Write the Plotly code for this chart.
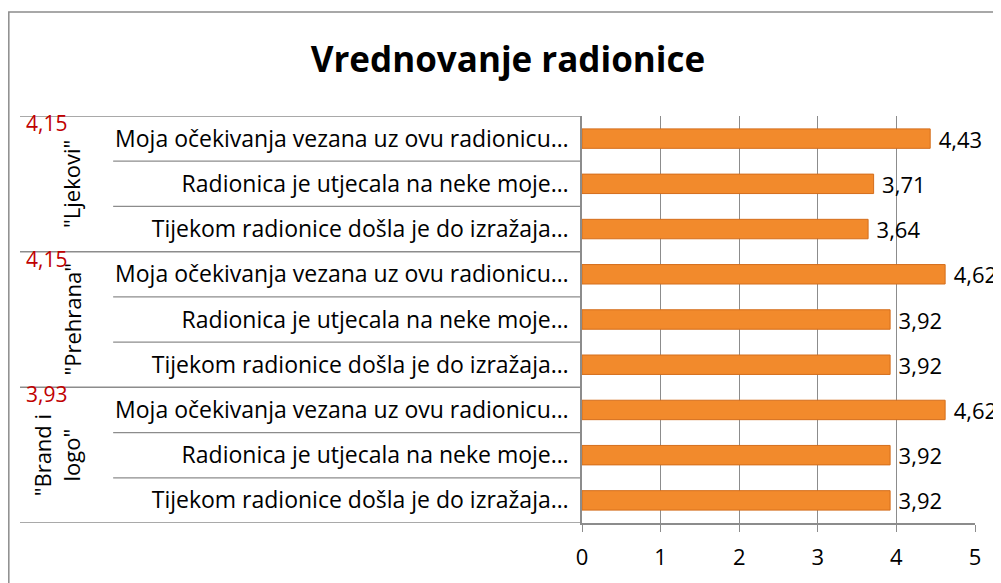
import plotly.graph_objects as go

# data, top to bottom
groups = ['"Ljekovi"', '"Prehrana"', '"Brand i<br>logo"']
group_scores = ["4,15", "4,15", "3,93"]
items = [
    "Moja očekivanja vezana uz ovu radionicu…",
    "Radionica je utjecala na neke moje…",
    "Tijekom radionice došla je do izražaja…",
]
values = [4.43, 3.71, 3.64, 4.62, 3.92, 3.92, 4.62, 3.92, 3.92]

labels = items * len(groups)
pos = list(range(len(values)))

FONT = "Open Sans"
GRAY = "#8c8c8c"

fig = go.Figure()
fig.add_trace(go.Bar(
    x=values,
    y=pos,
    orientation="h",
    width=0.43,
    marker=dict(color="#F28A2C", line=dict(color="#D46E1C", width=1)),
    text=["\u2005" + f"{v:.2f}".replace(".", ",") for v in values],
    textposition="outside",
    constraintext="none",
    textfont=dict(size=22, color="black", family=FONT),
    cliponaxis=False,
    hoverinfo="skip",
))

n = len(items)
shapes = []
# row separators on the label side
for i in range(len(values) + 1):
    outer = i % n == 0
    shapes.append(dict(
        type="line", xref="paper", yref="y",
        x0=-1.430 if outer else -1.193, x1=0,
        y0=i - 0.5, y1=i - 0.5,
        line=dict(color=GRAY, width=1.5 if outer else 1.2),
    ))
# chart border
shapes.append(dict(type="rect", xref="paper", yref="paper",
                   x0=-1.4585, x1=1.08, y0=-0.17, y1=1.2555,
                   line=dict(color=GRAY, width=1.5)))

annotations = []
for g, (name, score) in enumerate(zip(groups, group_scores)):
    annotations.append(dict(
        text=name, xref="paper", yref="y",
        x=-1.338 if "<br>" in name else -1.300, y=g * n + 1,
        xanchor="center", yanchor="middle",
        textangle=-90, showarrow=False,
        font=dict(size=22, color="black", family=FONT),
    ))
    annotations.append(dict(
        text=score, xref="paper", yref="y",
        x=-1.362, y=g * n - 0.5, yshift=-7,
        xanchor="center", yanchor="middle", showarrow=False,
        font=dict(size=21, color="#C00000", family=FONT),
    ))

fig.update_layout(
    title=dict(text="<b>Vrednovanje radionice</b>", x=0.5035, xanchor="center",
               y=0.9096, yanchor="middle",
               font=dict(size=35, color="black", family=FONT)),
    width=993, height=575,
    margin=dict(l=574, r=26, t=108, b=60),
    paper_bgcolor="white", plot_bgcolor="white",
    showlegend=False,
    separators=", ",
    shapes=shapes,
    annotations=annotations,
    font=dict(family=FONT, color="black"),
)
fig.update_xaxes(
    range=[0, 5], dtick=1, showgrid=True, gridcolor=GRAY, gridwidth=1,
    zeroline=False, showline=True, linecolor=GRAY, linewidth=1.5,
    ticks="outside", ticklen=7, tickcolor=GRAY, automargin=False,
    tickfont=dict(size=22, family=FONT), ticklabelstandoff=7,
)
fig.update_yaxes(
    tickvals=pos, ticktext=labels, range=[8.5, -0.5], automargin=False,
    showgrid=False, zeroline=False, showline=True, linecolor=GRAY, linewidth=1.5,
    ticks="", tickfont=dict(size=23, family=FONT), ticklabelstandoff=7,
)

fig.write_html("out.html")
